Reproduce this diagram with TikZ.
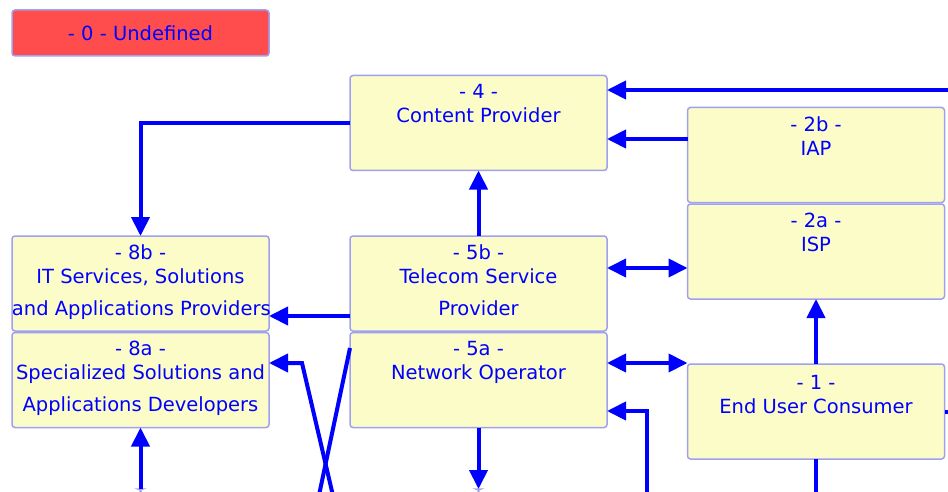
\documentclass[tikz,border=0pt]{standalone}
\usepackage{fontspec}
\setsansfont{DejaVu Sans}
\usepackage{tkz-graph}
\usetikzlibrary{arrows.meta}
\usetikzlibrary{shapes}

\definecolor{boxFill}{RGB}{252,252,200}
\definecolor{boxLine}{RGB}{160,160,240}
\definecolor{undefFill}{RGB}{255,77,77}
\definecolor{linkBlue}{RGB}{0,0,255}
\newcommand{\boxlines}[1]{\parbox[t][95pt][t]{257pt}{\centering\vspace*{9pt}#1}}

\begin{document}
\begin{tikzpicture}[x = 1pt, y = -1pt, font=\sffamily\fontsize{19.5}{24}\selectfont]
	\tikzstyle{VertexStyle} = []
	\tikzstyle{EdgeStyle} = []
	\tikzstyle{boxStyle}=[shape = rectangle, rounded corners = 3pt, inner sep = 0pt, draw = boxLine, line width = 1.5pt, fill = boxFill, text = linkBlue]
	\tikzstyle{undefStyle}=[shape = rectangle, rounded corners = 3pt, minimum width = 257pt, minimum height = 46pt, draw = boxLine, line width = 1.5pt, fill = undefFill, text = linkBlue]
	\tikzstyle{linkStyle}=[draw = linkBlue, line width = 4pt]
	\tikzstyle{arrowStyle}=[linkStyle, -{Triangle[length = 19pt, width = 18pt]}]
	\tikzstyle{bothStyle}=[linkStyle, {Triangle[length = 19pt, width = 18pt]}-{Triangle[length = 19pt, width = 18pt]}]
	\path[use as bounding box] (0,0) rectangle (948,492);
	\clip (0,0) rectangle (948,492);
	\Vertex[style = undefStyle, x = 140.5, y = 33, L = {- 0 - Undefined}]{v0}
	\Vertex[style = boxStyle, x = 478.5, y = 123, L = {\boxlines{- 4 -\\Content Provider}}]{v4}
	\Vertex[style = boxStyle, x = 816, y = 155, L = {\boxlines{- 2b -\\IAP}}]{v2b}
	\Vertex[style = boxStyle, x = 816, y = 251.5, L = {\boxlines{- 2a -\\ISP}}]{v2a}
	\Vertex[style = boxStyle, x = 816, y = 411.5, L = {\boxlines{\vspace*{2pt}- 1 -\\End User Consumer}}]{v1}
	\Vertex[style = boxStyle, x = 140.5, y = 283.5, L = {\boxlines{- 8b -\\IT Services, Solutions\\[8pt]\mbox{and Applications Providers}}}]{v8b}
	\Vertex[style = boxStyle, x = 140.5, y = 380, L = {\boxlines{- 8a -\\Specialized Solutions and\\[8pt]Applications Developers}}]{v8a}
	\Vertex[style = boxStyle, x = 478.5, y = 283.5, L = {\boxlines{- 5b -\\Telecom Service\\[8pt]Provider}}]{v5b}
	\Vertex[style = boxStyle, x = 478.5, y = 380, L = {\boxlines{- 5a -\\Network Operator}}]{v5a}
	\Vertex[style = boxStyle, x = 140.5, y = 536.5, L = {\boxlines{}}]{vb8}
	\Vertex[style = boxStyle, x = 478.5, y = 536.5, L = {\boxlines{}}]{vb5}
	\coordinate (rIn) at (960, 90);
	\coordinate (rOut) at (960, 411.5);
	\coordinate (bUp) at (647, 500);
	\coordinate (bDown) at (816, 500);
	\coordinate (xA) at (318, 500);
	\coordinate (xB) at (334, 500);
	\coordinate (kB) at (302, 363);
	\draw[arrowStyle] (rIn) -- (rIn -| v4.east);
	\draw[arrowStyle] ([yshift = 16pt]v2b.west) -- ([yshift = 16pt]v2b.west -| v4.east);
	\draw[arrowStyle] (v4.west) -| (v8b.north);
	\draw[arrowStyle] (v5b.north) -- (v4.south);
	\draw[bothStyle] ([yshift = 15.5pt]v5b.east) -- ([yshift = 15.5pt]v5b.east -| v2a.west);
	\draw[bothStyle] ([yshift = 17pt]v5a.east) -- ([yshift = 17pt]v5a.east -| v1.west);
	\draw[arrowStyle] (v1.north) -- (v2a.south);
	\draw[arrowStyle] (bUp) |- ([yshift = -31pt]v5a.east);
	\draw[arrowStyle] (v5a.south) -- (vb5.north);
	\draw[arrowStyle] (vb8.north) -- (v8a.south);
	\draw[linkStyle] (v1.south) -- (bDown);
	\draw[linkStyle] (v1.east) -- (rOut);
	\draw[arrowStyle] ([yshift = -32.5pt]v5b.west) -- ([yshift = -32.5pt]v5b.west -| v8b.east);
	\draw[arrowStyle] (xB) -- (kB) -- (kB -| v8a.east);
	\draw[linkStyle] ([yshift = 32pt]v5a.west) -- (xA);
\end{tikzpicture}
\end{document}
